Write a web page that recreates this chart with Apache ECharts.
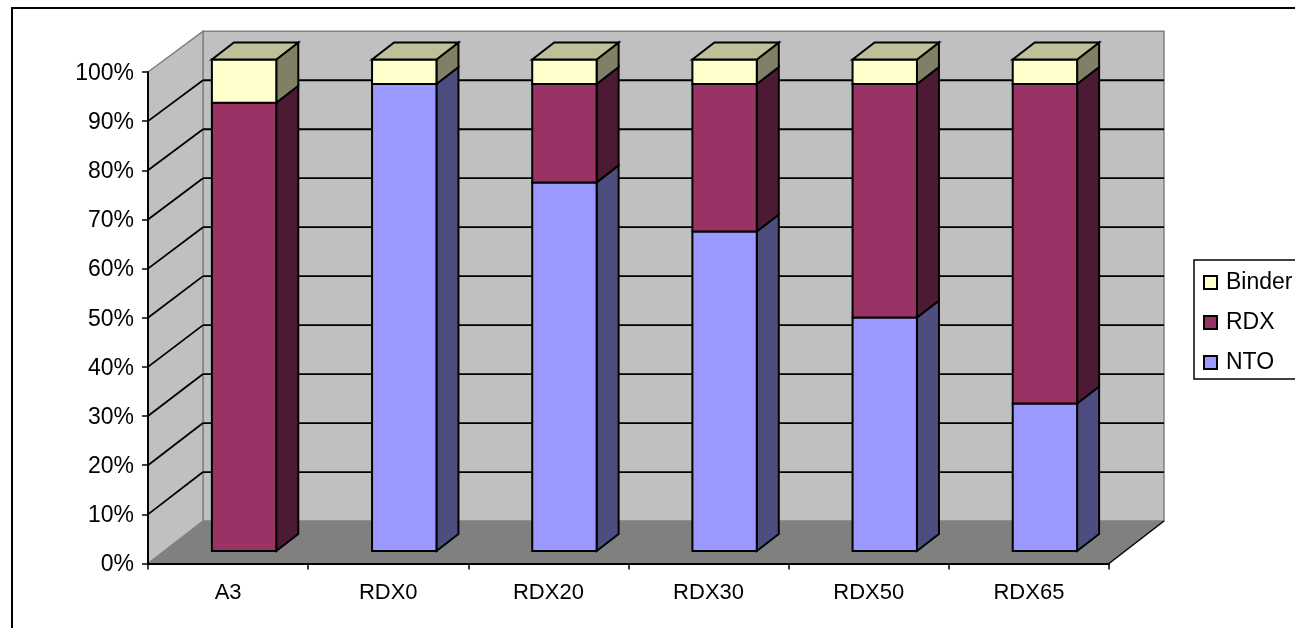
<!DOCTYPE html>
<html>
<head>
<meta charset="utf-8">
<title>chart</title>
<style>
html, body { margin: 0; padding: 0; background: #fff; overflow: hidden; }
#main { width: 1295px; height: 628px; }
</style>
<script src="https://cdn.jsdelivr.net/npm/echarts@6/dist/echarts.min.js"></script>
</head>
<body>
<div id="main"></div>
<script>
var categories = ['A3', 'RDX0', 'RDX20', 'RDX30', 'RDX50', 'RDX65'];
var ntoValues = [0, 95, 75, 65, 47.5, 30];
var rdxValues = [91.2, 0, 20, 30, 47.5, 65];
var binderValues = [8.8, 5, 5, 5, 5, 5];
var yTicks = [0, 10, 20, 30, 40, 50, 60, 70, 80, 90, 100];

var FONT = '"Liberation Sans", Arial, sans-serif';
var WALL_DX = 55;                       // depth of the box
var WALL_DY_LOW = -42.5, WALL_DY_HIGH = -40.7;
var BAR_DX = 22, BAR_DY = -17;          // depth of one bar
var BAR_OFF_X = 16, BAR_OFF_Y = -12.5;  // bar front face relative to front plane
var BAR_RATIO = 0.402;

function poly(points, fill, stroke, width) {
	return {
		type: 'polygon',
		shape: { points: points },
		style: { fill: fill, stroke: stroke || null, lineWidth: width || 0, lineJoin: 'miter' }
	};
}

function line(x1, y1, x2, y2, color, width) {
	return {
		type: 'line',
		shape: { x1: x1, y1: y1, x2: x2, y2: y2 },
		style: { stroke: color, lineWidth: width, fill: null }
	};
}

function wallDy(v) {
	return WALL_DY_LOW + (WALL_DY_HIGH - WALL_DY_LOW) * v / 100;
}

// walls, floor and gridlines
function renderWalls(params, api) {
	var first = api.coord([0, 0]);
	var band = api.size([1, 0])[0];
	var left = first[0] - band / 2;
	var right = first[0] + band * (categories.length - 0.5);
	var y0 = first[1];
	var y100 = api.coord([0, 100])[1];
	var dx = WALL_DX, dy0 = wallDy(0), dy1 = wallDy(100);
	var children = [];

	children.push(poly([[left + dx, y100 + dy1], [right + dx, y100 + dy1], [right + dx, y0 + dy0], [left + dx, y0 + dy0]], '#c0c0c0', '#808080', 1.5));
	children.push(poly([[left, y100], [left + dx, y100 + dy1], [left + dx, y0 + dy0], [left, y0]], '#c0c0c0', '#808080', 1.5));
	children.push(poly([[left, y0], [left + dx, y0 + dy0], [right + dx, y0 + dy0], [right, y0]], '#808080'));
	children.push(line(right, y0, right + dx, y0 + dy0, '#000', 1.5));

	for (var i = 1; i < yTicks.length - 1; i++) {
		var y = api.coord([0, yTicks[i]])[1];
		var dy = wallDy(yTicks[i]);
		children.push(line(left, y, left + dx, y + dy, '#000', 1.8));
		children.push(line(left + dx, y + dy, right + dx, y + dy, '#000', 1.8));
	}
	return { type: 'group', children: children };
}

function buildBarSeries(name, values, lowers, front, side, top) {
	var rows = [];
	for (var i = 0; i < values.length; i++) {
		rows.push([i, lowers[i], lowers[i] + values[i]]);
	}
	return {
		name: name,
		type: 'custom',
		coordinateSystem: 'cartesian2d',
		clip: false,
		z: 3,
		silent: true,
		itemStyle: { color: front, borderColor: '#000', borderWidth: 1.5 },
		encode: { x: 0, y: [1, 2] },
		data: rows,
		renderItem: function (params, api) {
			var low = api.value(1), high = api.value(2);
			if (high - low <= 0) {
				return null;
			}
			var band = api.size([1, 0])[0];
			var w = band * BAR_RATIO;
			var a = api.coord([api.value(0), low]);
			var b = api.coord([api.value(0), high]);
			var x1 = a[0] - w / 2 + BAR_OFF_X, x2 = a[0] + w / 2 + BAR_OFF_X;
			var yb = a[1] + BAR_OFF_Y, yt = b[1] + BAR_OFF_Y;
			var children = [
				poly([[x2, yb], [x2 + BAR_DX, yb + BAR_DY], [x2 + BAR_DX, yt + BAR_DY], [x2, yt]], side, '#000', 2),
				poly([[x1, yb], [x2, yb], [x2, yt], [x1, yt]], front, '#000', 2)
			];
			if (top) {
				children.push(poly([[x1, yt], [x1 + BAR_DX, yt + BAR_DY], [x2 + BAR_DX, yt + BAR_DY], [x2, yt]], top, '#000', 2));
			}
			return { type: 'group', children: children };
		}
	};
}

var zeros = categories.map(function () { return 0; });
var rdxLower = ntoValues.slice();
var binderLower = ntoValues.map(function (v, i) { return v + rdxValues[i]; });

var chart = echarts.init(document.getElementById('main'), null, { renderer: 'canvas' });
chart.setOption({
	animation: false,
	backgroundColor: '#fff',
	graphic: [{
		type: 'rect',
		shape: { x: 12, y: 8, width: 1300, height: 640 },
		style: { fill: null, stroke: '#000', lineWidth: 2 },
		z: -1
	}],
	grid: { left: 148, top: 72, width: 961, height: 491.5, containLabel: false },
	legend: {
		left: 1194,
		top: 260,
		orient: 'vertical',
		data: ['Binder', 'RDX', 'NTO'],
		icon: 'rect',
		itemWidth: 13,
		itemHeight: 13,
		itemGap: 17,
		padding: [11, 30, 5, 9],
		backgroundColor: '#fff',
		borderColor: '#000',
		borderWidth: 1.5,
		selectedMode: false,
		textStyle: { fontFamily: FONT, fontSize: 23, color: '#000', padding: [0, 0, 0, 4] }
	},
	xAxis: {
		type: 'category',
		data: categories,
		z: 5,
		axisLine: { show: true, lineStyle: { color: '#000', width: 2 } },
		axisTick: { show: true, alignWithLabel: false, length: 6, lineStyle: { color: '#000', width: 1.5 } },
		axisLabel: { fontFamily: FONT, fontSize: 22, color: '#000', margin: 18, interval: 0 },
		splitLine: { show: false }
	},
	yAxis: {
		type: 'value',
		min: 0,
		max: 100,
		interval: 10,
		z: 5,
		axisLine: { show: true, lineStyle: { color: '#000', width: 2 } },
		axisTick: { show: true, length: 6, lineStyle: { color: '#000', width: 1.5 } },
		axisLabel: { fontFamily: FONT, fontSize: 23, color: '#000', margin: 14, verticalAlign: 'top', lineHeight: 3, formatter: '{value}%' },
		splitLine: { show: false }
	},
	series: [
		{
			type: 'custom',
			name: 'walls',
			coordinateSystem: 'cartesian2d',
			clip: false,
			silent: true,
			z: 1,
			data: [[0, 0]],
			renderItem: renderWalls
		},
		buildBarSeries('NTO', ntoValues, zeros, '#9999ff', '#4d4d80', null),
		buildBarSeries('RDX', rdxValues, rdxLower, '#993366', '#4d1a33', null),
		buildBarSeries('Binder', binderValues, binderLower, '#ffffcc', '#808066', '#bfbf99')
	]
});
</script>
</body>
</html>
